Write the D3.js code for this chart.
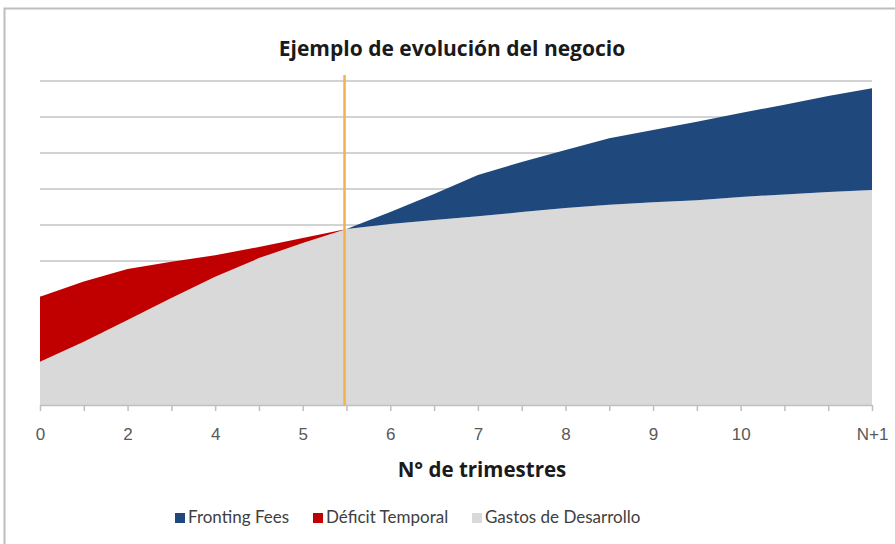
<!DOCTYPE html>
<html>
<head>
<meta charset="utf-8">
<script src="https://cdn.jsdelivr.net/npm/d3@7"></script>
<style>
    body { margin: 0; background: #fff; }
    svg { display: block; font-family: Lato, "Open Sans", sans-serif; }
</style>
</head>
<body>
<div id="chart"></div>
<script>
// Category labels (20 quarters, Excel shows only some of them)
const categories = ['0', '', '2', '', '4', '', '5', '', '6', '', '7', '', '8', '', '9', '', '10', '', '', 'N+1'];

// Series values, stacked from bottom to top
const gastos   = [1.20, 1.76, 2.36, 2.97, 3.56, 4.08, 4.50, 4.89, 5.03, 5.14, 5.24, 5.36, 5.47, 5.56, 5.63, 5.69, 5.78, 5.85, 5.92, 5.97];
const deficit  = [1.81, 1.67, 1.42, 1.01, 0.60, 0.31, 0.14, 0, 0, 0, 0, 0, 0, 0, 0, 0, 0, 0, 0, 0];
const fronting = [0, 0, 0, 0, 0, 0, 0, 0, 0.33, 0.72, 1.15, 1.39, 1.61, 1.85, 2.01, 2.18, 2.33, 2.49, 2.66, 2.83];

const seriesNames = ['Gastos de Desarrollo', 'Déficit Temporal', 'Fronting Fees'];
const legendOrder = ['Fronting Fees', 'Déficit Temporal', 'Gastos de Desarrollo'];
const yTicks = [0, 1, 2, 3, 4, 5, 6, 7, 8, 9];
const breakEvenIndex = 7;

const colors = {
    'Gastos de Desarrollo': '#d9d9d9',
    'Déficit Temporal': '#c00000',
    'Fronting Fees': '#1f497d'
};

const width = 895, height = 544;
const margin = { top: 81, right: 23, bottom: 139, left: 40 };
const innerW = width - margin.left - margin.right;
const innerH = height - margin.top - margin.bottom;

const svg = d3.select('#chart')
    .append('svg')
    .attr('width', width)
    .attr('height', height);

// Chart frame (only top and left edges visible in the crop)
svg.append('rect')
    .attr('x', 4.5)
    .attr('y', 8.5)
    .attr('width', width + 20)
    .attr('height', height + 20)
    .attr('fill', 'none')
    .attr('stroke', '#bdbdbd')
    .attr('stroke-width', 2);

const g = svg.append('g')
    .attr('transform', `translate(${margin.left},${margin.top})`);

// Build rows for the stack
const rows = categories.map((c, i) => ({
    idx: i,
    'Gastos de Desarrollo': gastos[i],
    'Déficit Temporal': deficit[i],
    'Fronting Fees': fronting[i]
}));

const x = d3.scalePoint()
    .domain(rows.map(d => d.idx))
    .range([0, innerW]);

const y = d3.scaleLinear()
    .domain([0, d3.max(yTicks)])
    .range([innerH, 0]);

// Gridlines
g.selectAll('.grid')
    .data(yTicks.slice(1))
    .enter()
    .append('line')
    .attr('class', 'grid')
    .attr('x1', 0)
    .attr('x2', innerW)
    .attr('y1', d => y(d))
    .attr('y2', d => y(d))
    .attr('stroke', '#c4c4c4')
    .attr('stroke-width', 1.6);

// Stacked areas
const stack = d3.stack().keys(seriesNames);
const stacked = stack(rows);

const area = d3.area()
    .x(d => x(d.data.idx))
    .y0(d => y(d[0]))
    .y1(d => y(d[1]));

g.selectAll('.layer')
    .data(stacked)
    .enter()
    .append('path')
    .attr('class', 'layer')
    .attr('d', area)
    .attr('fill', d => colors[d.key]);

// X axis
const xAxis = d3.axisBottom(x)
    .tickSize(6)
    .tickSizeOuter(0)
    .tickPadding(17)
    .tickFormat(i => categories[i]);

const axisG = g.append('g')
    .attr('transform', `translate(0,${innerH})`)
    .call(xAxis);

axisG.select('.domain')
    .attr('stroke', '#bfbfbf')
    .attr('stroke-width', 1.5);
axisG.selectAll('.tick line')
    .attr('stroke', '#bfbfbf')
    .attr('stroke-width', 1.5);
axisG.selectAll('.tick text')
    .style('font-size', '17px')
    .style('fill', '#595959');

// Break-even marker line
g.append('line')
    .attr('x1', x(breakEvenIndex) - 2)
    .attr('x2', x(breakEvenIndex) - 2)
    .attr('y1', y(d3.max(yTicks)) - 6)
    .attr('y2', innerH)
    .attr('stroke', '#f5b04e')
    .attr('stroke-width', 2.5);

// Title
svg.append('text')
    .attr('x', 452)
    .attr('y', 56)
    .attr('text-anchor', 'middle')
    .style('font-family', '"Open Sans", sans-serif')
    .style('font-size', '21px')
    .style('font-weight', 'bold')
    .style('fill', '#1a1a1a')
    .text('Ejemplo de evolución del negocio');

// X axis title
svg.append('text')
    .attr('x', 482)
    .attr('y', 477)
    .attr('text-anchor', 'middle')
    .style('font-family', '"Open Sans", sans-serif')
    .style('font-size', '20.5px')
    .style('font-weight', 'bold')
    .style('fill', '#1a1a1a')
    .text('N° de trimestres');

// Legend
const legendX = [175, 313, 472];
const legend = svg.append('g').attr('class', 'legend');

legendOrder.forEach((name, i) => {
    const item = legend.append('g')
        .attr('transform', `translate(${legendX[i]}, 513)`);

    item.append('rect')
        .attr('width', 10)
        .attr('height', 10)
        .attr('fill', colors[name]);

    item.append('text')
        .attr('x', 13)
        .attr('y', 10)
        .style('font-size', '17px')
        .style('fill', '#404040')
        .text(name);
});
</script>
</body>
</html>
